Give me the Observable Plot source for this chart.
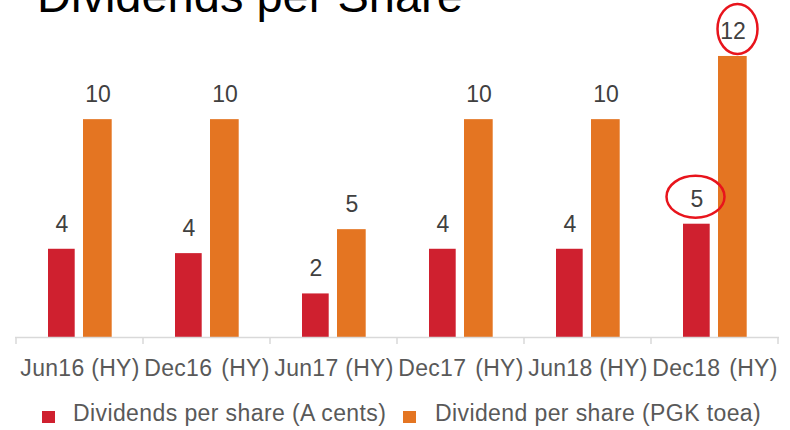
<!DOCTYPE html>
<html>
<head>
<meta charset="utf-8">
<script src="https://cdn.jsdelivr.net/npm/d3@7"></script>
<script src="https://cdn.jsdelivr.net/npm/@observablehq/plot@0.6"></script>
<style>
  html, body { margin: 0; padding: 0; background: #fff; }
  #wrap { position: relative; width: 790px; height: 430px; overflow: hidden;
          font-family: "Liberation Sans", Arial, sans-serif; }
  #title { position: absolute; left: 37px; top: -28px; font-size: 47px; line-height: 47px;
           color: #000; white-space: nowrap; }
  #chart { position: absolute; left: 0; top: 0; }
  #chart svg g[aria-label="x-axis tick label"] text { letter-spacing: 0.3px; white-space: pre; }
  .sw { position: absolute; width: 13px; height: 12px; top: 411px; }
  .lt { position: absolute; top: 402px; font-size: 23px; line-height: 23px; color: #595959;
        white-space: pre; letter-spacing: 0.4px; }
</style>
</head>
<body>
<div id="wrap">
  <div id="title">Dividends per Share</div>
  <div id="chart"></div>
</div>
<script>
// ---- data ----
const periods = ["Jun16", "Dec16", "Jun17", "Dec17", "Jun18", "Dec18"];
const tickLabels = ["Jun16 (HY)", "Dec16 \u200a(HY)", "Jun17 (HY)", "Dec17 \u200a(HY)", "Jun18 (HY)", "Dec18 \u200a(HY)"];
const seriesNames = ["Dividends per share (A cents)", "Dividend per share (PGK toea)"];
const seriesColors = ["#cf202f", "#e47522"];
const aCents = [4.05, 3.85, 2.0, 4.05, 4.05, 5.2];
const pgkToea = [10, 10, 4.95, 10, 10, 12.9];
const aCentsLabels = ["4", "4", "2", "4", "4", "5"];
const pgkToeaLabels = ["10", "10", "5", "10", "10", "12"];
const highlightPeriod = "Dec18";

// ---- table ----
const rows = [];
periods.forEach((p, i) => {
  rows.push({period: p, series: seriesNames[0], value: aCents[i], label: aCentsLabels[i]});
  rows.push({period: p, series: seriesNames[1], value: pgkToea[i], label: pgkToeaLabels[i]});
});
const redRows = rows.filter(d => d.series === seriesNames[0]);
const orangeRows = rows.filter(d => d.series === seriesNames[1]);

// boundary ticks on the category axis
function boundaryTicks(index, scales, values, dims) {
  const g = d3.create("svg:g");
  const xs = scales.x;
  const bw = xs.bandwidth ? xs.bandwidth() : (dims.width - dims.marginLeft - dims.marginRight) / periods.length;
  const y0 = scales.y(0);
  const xsPos = periods.map(p => xs(p)).concat([xs(periods[periods.length - 1]) + bw]);
  xsPos.forEach(x => {
    g.append("line").attr("x1", x).attr("x2", x).attr("y1", y0).attr("y2", y0 + 7)
      .attr("stroke", "#d9d9d9").attr("stroke-width", 1.5);
  });
  return g.node();
}

// highlight ellipses around the labels of the highlighted period
function highlightEllipses(index, scales, values, dims) {
  const g = d3.create("svg:g");
  const xs = scales.x;
  const bw = xs.bandwidth ? xs.bandwidth() : (dims.width - dims.marginLeft - dims.marginRight) / periods.length;
  const i = periods.indexOf(highlightPeriod);
  const cx0 = xs(highlightPeriod) + bw / 2;
  g.append("ellipse").attr("cx", cx0 - 18 - 1).attr("cy", scales.y(aCents[i]) - 27)
    .attr("rx", 29).attr("ry", 21).attr("fill", "none").attr("stroke", "#e8141c").attr("stroke-width", 2.5);
  g.append("ellipse").attr("cx", cx0 + 18 + 5).attr("cy", scales.y(pgkToea[i]) - 27)
    .attr("rx", 20).attr("ry", 25).attr("fill", "none").attr("stroke", "#e8141c").attr("stroke-width", 2.5);
  return g.node();
}

const chart = Plot.plot({
  width: 790,
  height: 390,
  marginTop: 32,
  marginBottom: 53,
  marginLeft: 15,
  marginRight: 11,
  style: {fontFamily: "'Liberation Sans', Arial, sans-serif", background: "transparent", overflow: "visible"},
  x: {domain: periods, padding: 0, label: null},
  y: {domain: [0, 14], axis: null},
  marks: [
    Plot.barY(redRows, {x: "period", y: "value", fill: seriesColors[0], insetLeft: 32, insetRight: 68.3}),
    Plot.barY(orangeRows, {x: "period", y: "value", fill: seriesColors[1], insetLeft: 67, insetRight: 31.3}),
    Plot.ruleY([0], {stroke: "#d9d9d9", strokeWidth: 1.5}),
    boundaryTicks,
    Plot.text(redRows, {x: "period", y: "value", text: "label", dx: -18, dy: -25, fontSize: 23, fill: "#404040", lineAnchor: "middle"}),
    Plot.text(orangeRows, {x: "period", y: "value", text: "label", dx: 18, dy: -25, fontSize: 23, fill: "#404040", lineAnchor: "middle"}),
    Plot.axisX({tickSize: 0, tickPadding: 22, fontSize: 23, fill: "#595959", label: null,
                tickFormat: d => tickLabels[periods.indexOf(d)]}),
    highlightEllipses
  ]
});
document.getElementById("chart").appendChild(chart);

// legend
const wrap = document.getElementById("wrap");
const legendPos = [{sw: 42, tx: 73}, {sw: 403, tx: 435}];
seriesNames.forEach((name, i) => {
  const sw = document.createElement("div");
  sw.className = "sw";
  sw.style.left = legendPos[i].sw + "px";
  sw.style.background = seriesColors[i];
  wrap.appendChild(sw);
  const t = document.createElement("div");
  t.className = "lt";
  t.style.left = legendPos[i].tx + "px";
  t.textContent = name;
  wrap.appendChild(t);
});
</script>
</body>
</html>
